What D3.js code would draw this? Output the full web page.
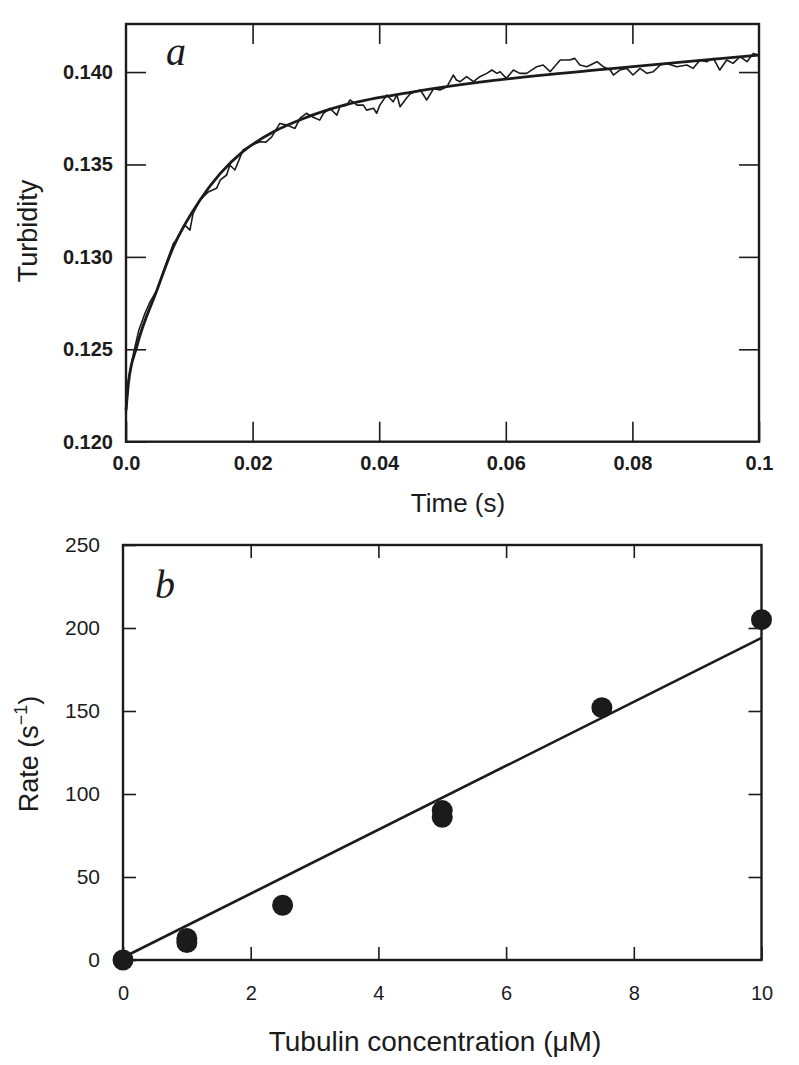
<!DOCTYPE html>
<html><head><meta charset="utf-8">
<script src="https://cdn.jsdelivr.net/npm/d3@7"></script>
<style>body{margin:0;background:#fff} svg{display:block}</style>
</head><body>
<svg id="c" width="799" height="1065"></svg>
<script>
// ---------- Panel a data ----------
const timeTicks = [0, 0.02, 0.04, 0.06, 0.08, 0.1];
const timeTickLabels = ["0.0", "0.02", "0.04", "0.06", "0.08", "0.1"];
const turbTicks = [0.120, 0.125, 0.130, 0.135, 0.140];
const turbTickLabels = ["0.120", "0.125", "0.130", "0.135", "0.140"];

// measured turbidity trace [time (s), turbidity]
const trace = [
  [0, 0.1215], [0.0004, 0.1234], [0.0012, 0.1248], [0.0020, 0.1260], [0.0030, 0.12695],
  [0.0038, 0.12757], [0.0049, 0.12821], [0.0062, 0.1295], [0.0075, 0.13073], [0.0083, 0.13109],
  [0.0093, 0.13172], [0.0101, 0.13145], [0.0106, 0.13236], [0.0117, 0.13308], [0.0130, 0.13351],
  [0.0143, 0.13371], [0.0149, 0.13416], [0.0159, 0.13443], [0.0164, 0.13497], [0.0172, 0.1347],
  [0.0185, 0.13578], [0.0199, 0.13605], [0.0212, 0.13623], [0.0221, 0.13621], [0.0230, 0.13648],
  [0.0243, 0.13722], [0.0254, 0.13713], [0.0267, 0.13695], [0.0275, 0.13751], [0.0285, 0.13777],
  [0.0295, 0.13757], [0.0306, 0.1374], [0.0312, 0.13777], [0.0322, 0.13804], [0.0333, 0.13767],
  [0.0338, 0.13812], [0.0349, 0.13821], [0.0354, 0.13849], [0.0365, 0.13821], [0.0375, 0.13821],
  [0.0380, 0.13794], [0.0391, 0.13804], [0.0396, 0.13777], [0.0401, 0.13821], [0.0412, 0.13876],
  [0.0422, 0.13839], [0.0428, 0.13876], [0.0433, 0.13812], [0.0443, 0.13858], [0.0449, 0.13883],
  [0.0465, 0.13903], [0.0475, 0.13849], [0.0486, 0.1391], [0.0496, 0.13903], [0.0507, 0.1392],
  [0.0517, 0.13984], [0.0522, 0.13957], [0.0528, 0.13948], [0.0538, 0.13975], [0.0549, 0.13948],
  [0.0559, 0.13975], [0.0570, 0.13993], [0.0578, 0.14011], [0.0586, 0.13993], [0.0591, 0.14002],
  [0.0601, 0.13966], [0.0612, 0.14011], [0.0622, 0.13993], [0.0633, 0.13993], [0.0649, 0.14029],
  [0.0659, 0.14038], [0.0670, 0.14002], [0.0686, 0.14065], [0.0701, 0.14065], [0.0709, 0.14074],
  [0.0717, 0.14038], [0.0728, 0.14029], [0.0744, 0.14056], [0.0754, 0.14029], [0.0765, 0.14011],
  [0.0770, 0.13984], [0.0780, 0.14011], [0.0791, 0.1402], [0.0801, 0.13984], [0.0812, 0.1402],
  [0.0823, 0.13993], [0.0833, 0.14002], [0.0844, 0.14038], [0.0854, 0.14047], [0.0870, 0.14029],
  [0.0886, 0.14038], [0.0896, 0.1402], [0.0907, 0.14065], [0.0917, 0.14056], [0.0928, 0.14074],
  [0.0938, 0.14011], [0.0949, 0.14065], [0.0959, 0.14047], [0.0970, 0.14083], [0.0981, 0.14056],
  [0.0991, 0.14101], [0.0999, 0.14092]
];

// fitted curve [time (s), turbidity]
const fitA = [
  [0, 0.1217], [0.0004, 0.1232], [0.0017, 0.12514], [0.0049, 0.12821], [0.0075, 0.13055],
  [0.0117, 0.13308], [0.0149, 0.13452], [0.0185, 0.13571], [0.0233, 0.13677], [0.0285, 0.13755],
  [0.0349, 0.13825], [0.0454, 0.13893], [0.0559, 0.13945], [0.0654, 0.13982], [0.0754, 0.14014],
  [0.0886, 0.14056], [0.1, 0.14092]
];

// ---------- Panel b data ----------
const concTicks = [0, 2, 4, 6, 8, 10];
const rateTicks = [0, 50, 100, 150, 200, 250];
const concentration = [0, 1, 1, 2.5, 5, 5, 7.5, 10];
const rate = [0, 13, 10.5, 33, 90, 86, 152, 205];
const fitConc = [0, 10];
const fitRate = [1.5, 194];

// ---------- drawing ----------
const ink = "#1b1b1b";
const sans = "'Liberation Sans', Arial, Helvetica, sans-serif";
const serif = "'Liberation Serif', 'Times New Roman', serif";
const svg = d3.select("#c");

function styleAxis(g, fontSize, weight) {
  g.select(".domain").remove();
  g.selectAll(".tick line").attr("stroke", ink).attr("stroke-width", 1.6);
  g.selectAll(".tick text").attr("fill", ink).attr("font-family", sans)
    .attr("font-size", fontSize).attr("font-weight", weight);
}

function frame(x, y) {
  const [x0, x1] = x.range(), [y0, y1] = y.range();
  svg.append("rect").attr("x", x0).attr("y", y1).attr("width", x1 - x0).attr("height", y0 - y1)
    .attr("fill", "none").attr("stroke", ink).attr("stroke-width", 2.4);
}

// Panel a
const xA = d3.scaleLinear().domain([0, 0.1]).range([126, 759]);
const yA = d3.scaleLinear().domain([0.12, 0.1426]).range([441.7, 24]);

svg.append("g").attr("transform", `translate(0,${yA.range()[0]})`)
  .call(d3.axisBottom(xA).tickValues(timeTicks).tickFormat((d, i) => timeTickLabels[i])
    .tickSizeInner(-20).tickSizeOuter(0).tickPadding(14))
  .call(g => styleAxis(g, 20, "bold"));
svg.append("g").attr("transform", `translate(${xA.range()[0]},0)`)
  .call(d3.axisLeft(yA).tickValues(turbTicks).tickFormat((d, i) => turbTickLabels[i])
    .tickSizeInner(-20).tickSizeOuter(0).tickPadding(13))
  .call(g => styleAxis(g, 20, "bold"));
svg.append("g").attr("transform", `translate(0,${yA.range()[1]})`)
  .call(d3.axisTop(xA).tickValues(timeTicks.slice(1, -1)).tickFormat("")
    .tickSizeInner(-20).tickSizeOuter(0))
  .call(g => styleAxis(g, 20, "bold"));
svg.append("g").attr("transform", `translate(${xA.range()[1]},0)`)
  .call(d3.axisRight(yA).tickValues(turbTicks.slice(1)).tickFormat("")
    .tickSizeInner(-20).tickSizeOuter(0))
  .call(g => styleAxis(g, 20, "bold"));
frame(xA, yA);

svg.append("path").datum(trace)
  .attr("d", d3.line().x(d => xA(d[0])).y(d => yA(d[1])))
  .attr("fill", "none").attr("stroke", ink).attr("stroke-width", 1.6).attr("stroke-linejoin", "round");
svg.append("path").datum(fitA)
  .attr("d", d3.line().curve(d3.curveMonotoneX).x(d => xA(d[0])).y(d => yA(d[1])))
  .attr("fill", "none").attr("stroke", ink).attr("stroke-width", 2.8);

svg.append("text").attr("x", 166).attr("y", 65).text("a")
  .attr("font-family", serif).attr("font-style", "italic").attr("font-size", 40).attr("fill", ink);
svg.append("text").attr("x", 458).attr("y", 512).attr("text-anchor", "middle").text("Time (s)")
  .attr("font-family", sans).attr("font-size", 26).attr("fill", ink);
svg.append("text").attr("transform", "translate(37,231) rotate(-90)").attr("text-anchor", "middle")
  .text("Turbidity").attr("font-family", sans).attr("font-size", 27).attr("fill", ink);

// Panel b
const xB = d3.scaleLinear().domain([0, 10]).range([123, 761.5]);
const yB = d3.scaleLinear().domain([0, 250]).range([960, 545]);

svg.append("g").attr("transform", `translate(0,${yB.range()[0]})`)
  .call(d3.axisBottom(xB).tickValues(concTicks).tickFormat(d3.format("d"))
    .tickSizeInner(-13).tickSizeOuter(0).tickPadding(26))
  .call(g => styleAxis(g, 20, "normal"));
svg.append("g").attr("transform", `translate(${xB.range()[0]},0)`)
  .call(d3.axisLeft(yB).tickValues(rateTicks).tickFormat(d3.format("d"))
    .tickSizeInner(-13).tickSizeOuter(0).tickPadding(23))
  .call(g => styleAxis(g, 21, "normal"));
svg.append("g").attr("transform", `translate(0,${yB.range()[1]})`)
  .call(d3.axisTop(xB).tickValues(concTicks.slice(1, -1)).tickFormat("")
    .tickSizeInner(-13).tickSizeOuter(0))
  .call(g => styleAxis(g, 20, "normal"));
svg.append("g").attr("transform", `translate(${xB.range()[1]},0)`)
  .call(d3.axisRight(yB).tickValues(rateTicks.slice(1, -1)).tickFormat("")
    .tickSizeInner(-13).tickSizeOuter(0))
  .call(g => styleAxis(g, 20, "normal"));
frame(xB, yB);

svg.append("path").datum(fitConc.map((c, i) => [c, fitRate[i]]))
  .attr("d", d3.line().x(d => xB(d[0])).y(d => yB(d[1])))
  .attr("fill", "none").attr("stroke", ink).attr("stroke-width", 2.6);

svg.append("g").selectAll("circle").data(concentration.map((c, i) => [c, rate[i]]))
  .join("circle").attr("cx", d => xB(d[0])).attr("cy", d => yB(d[1])).attr("r", 10.5)
  .attr("fill", ink);

svg.append("text").attr("x", 155).attr("y", 598).text("b")
  .attr("font-family", serif).attr("font-style", "italic").attr("font-size", 40).attr("fill", ink);
const rl = svg.append("text").attr("transform", "translate(38,754) rotate(-90)").attr("text-anchor", "middle")
  .attr("font-family", sans).attr("font-size", 27).attr("fill", ink);
rl.append("tspan").text("Rate (s");
rl.append("tspan").text("\u22121").attr("font-size", 18).attr("dy", -11);
rl.append("tspan").text(")").attr("dy", 11);
svg.append("text").attr("x", 435).attr("y", 1051).attr("text-anchor", "middle")
  .text("Tubulin concentration (\u03BCM)").attr("font-family", sans).attr("font-size", 28).attr("fill", ink);
</script>
</body></html>
